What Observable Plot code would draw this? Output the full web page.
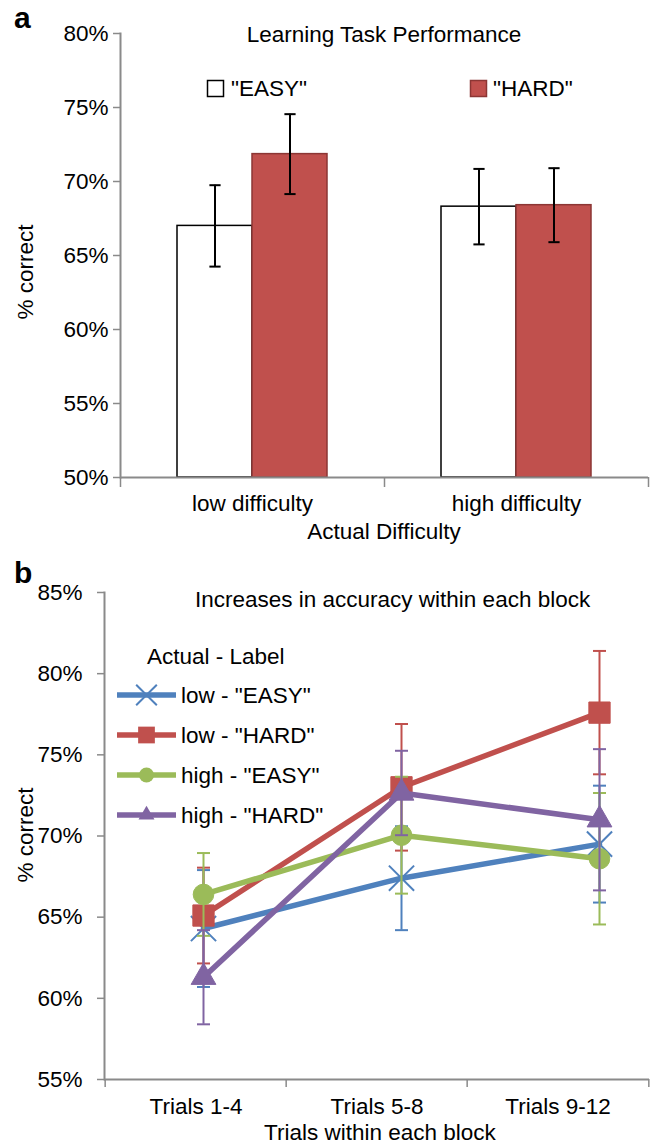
<!DOCTYPE html>
<html>
<head>
<meta charset="utf-8">
<script src="https://cdn.jsdelivr.net/npm/d3@7"></script>
<script src="https://cdn.jsdelivr.net/npm/@observablehq/plot@0.6"></script>
<style>
  body { margin: 0; background: #fff; }
  #root { position: relative; width: 652px; height: 1144px; overflow: hidden; background: #fff; }
  #root > svg { position: absolute; left: 0; }
</style>
</head>
<body>
<div id="root"></div>
<script>
// ---------------- Panel a data ----------------
const aDifficulty = ["low difficulty", "high difficulty"];
const aLabels = ['"EASY"', '"HARD"'];
const aEasy = [67.0, 68.3];
const aEasyErr = [2.75, 2.55];
const aHard = [71.85, 68.4];
const aHardErr = [2.7, 2.5];
const aTicks = [50, 55, 60, 65, 70, 75, 80];
const aFill = ["#ffffff", "#C0504D"];
const aStroke = ["#000000", "#8C3634"];

// ---------------- Panel b data ----------------
const bTrials = ["Trials 1-4", "Trials 5-8", "Trials 9-12"];
const bTicks = [55, 60, 65, 70, 75, 80, 85];
const bSeries = ['low - "EASY"', 'low - "HARD"', 'high - "EASY"', 'high - "HARD"'];
const lowEasy = [64.3, 67.4, 69.5];
const lowEasyErr = [3.6, 3.2, 3.6];
const lowHard = [65.1, 73.0, 77.6];
const lowHardErr = [2.95, 3.9, 3.8];
const highEasy = [66.4, 70.05, 68.6];
const highEasyErr = [2.55, 3.6, 4.05];
const highHard = [61.3, 72.65, 71.0];
const highHardErr = [2.9, 2.6, 4.35];
const bColors = ["#4F81BD", "#C0504D", "#9BBB59", "#8064A2"];
const bSymbols = ["times", "square", "circle", "triangle"];

// ---------------- styling ----------------
const gray = "#8a8a8a";
const font = "'Liberation Sans', Arial, Helvetica, sans-serif";
const fontSize = "22.5px";
const root = document.getElementById("root");
const capSymbol = {
  draw(ctx, size) { const r = Math.sqrt(size / Math.PI); ctx.moveTo(-r, 0); ctx.lineTo(r, 0); }
};
function place(node, top) { node.style.top = top + "px"; root.appendChild(node); return node; }

// ---------------- Panel a ----------------
const aRows = aDifficulty.flatMap((difficulty, i) => [
  {difficulty, label: aLabels[0], value: aEasy[i], err: aEasyErr[i]},
  {difficulty, label: aLabels[1], value: aHard[i], err: aHardErr[i]}
]);
const aW = 652, aH = 550, aML = 120, aMR = 4, aMT = 33, aMB = 73;
const aHalf = (aW - aML - aMR) / aDifficulty.length / 2;

const chartA = Plot.plot({
  width: aW, height: aH, marginLeft: aML, marginRight: aMR, marginTop: aMT, marginBottom: aMB,
  style: {fontFamily: font, fontSize, color: "#000", background: "transparent", overflow: "visible"},
  fx: {domain: aDifficulty, padding: 0, axis: null},
  x: {domain: aLabels, paddingInner: 0, paddingOuter: 0.737, axis: null},
  y: {domain: [50, 80], axis: null},
  marks: [
    ...aLabels.map((lab, j) => Plot.barY(aRows.filter(d => d.label === lab), {
      fx: "difficulty", x: "label", y1: 50, y2: "value",
      fill: aFill[j], stroke: aStroke[j], strokeWidth: 1.5
    })),
    Plot.ruleX(aRows, {fx: "difficulty", x: "label", y1: d => d.value - d.err, y2: d => d.value + d.err, stroke: "#000", strokeWidth: 2}),
    Plot.dot(aRows, {fx: "difficulty", x: "label", y: d => d.value - d.err, symbol: capSymbol, r: 5.6, stroke: "#000", strokeWidth: 2, fill: "none"}),
    Plot.dot(aRows, {fx: "difficulty", x: "label", y: d => d.value + d.err, symbol: capSymbol, r: 5.6, stroke: "#000", strokeWidth: 2, fill: "none"}),
    Plot.ruleY([50], {stroke: gray, strokeWidth: 2}),
    Plot.frame({anchor: "left", facet: "super", stroke: gray, strokeWidth: 2}),
    Plot.axisY({ticks: aTicks, tickFormat: d => d + "%", tickSize: 7, tickPadding: 5, stroke: gray, strokeWidth: 1.5, fill: "#000", label: null}),
    Plot.axisFx({anchor: "bottom", tickSize: 0, tickPadding: 18, fill: "#000", label: null}),
    Plot.axisFx({anchor: "bottom", tickSize: 10, stroke: gray, strokeWidth: 1.5, fill: "none", dx: -aHalf, label: null}),
    Plot.axisFx({anchor: "bottom", ticks: [aDifficulty[aDifficulty.length - 1]], tickSize: 10, stroke: gray, strokeWidth: 1.5, fill: "none", dx: aHalf, label: null})
  ]
});
place(chartA, 0);

// ---------------- Panel b ----------------
const bW = 652, bH = 594, bML = 104, bMR = 3, bMT = 42, bMB = 65, bTop = 550;
const bHalf = (bW - bML - bMR) / bTrials.length / 2;
const bValues = [lowEasy, lowHard, highEasy, highHard];
const bErrs = [lowEasyErr, lowHardErr, highEasyErr, highHardErr];
const bRows = bSeries.map((series, i) => bTrials.map((trial, k) => ({series, trial, value: bValues[i][k], err: bErrs[i][k]})));

// axes layer (Excel category axis: ticks between categories)
const chartBAxes = Plot.plot({
  width: bW, height: bH, marginLeft: bML, marginRight: bMR, marginTop: bMT, marginBottom: bMB,
  style: {fontFamily: font, fontSize, color: "#000", background: "transparent", overflow: "visible"},
  x: {type: "band", domain: bTrials, padding: 0, axis: null},
  y: {domain: [55, 85], axis: null},
  marks: [
    Plot.ruleY([55], {stroke: gray, strokeWidth: 2}),
    Plot.frame({anchor: "left", stroke: gray, strokeWidth: 2}),
    Plot.axisY({ticks: bTicks, tickFormat: d => d + "%", tickSize: 7, tickPadding: 15, stroke: gray, strokeWidth: 1.5, fill: "#000", label: null}),
    Plot.axisX({tickSize: 0, tickPadding: 19, fill: "#000", label: null}),
    Plot.axisX({tickSize: 8, stroke: gray, strokeWidth: 1.5, fill: "none", dx: -bHalf, label: null}),
    Plot.axisX({ticks: [bTrials[bTrials.length - 1]], tickSize: 8, stroke: gray, strokeWidth: 1.5, fill: "none", dx: bHalf, label: null})
  ]
});
place(chartBAxes, bTop);

// data layer
const chartBData = Plot.plot({
  width: bW, height: bH, marginLeft: bML, marginRight: bMR, marginTop: bMT, marginBottom: bMB,
  style: {fontFamily: font, fontSize, background: "transparent", overflow: "visible"},
  x: {type: "point", domain: bTrials, range: [203, 599], padding: 0, axis: null},
  y: {domain: [55, 85], axis: null},
  marks: bRows.flatMap((rows, i) => {
    const c = bColors[i];
    const sym = bSymbols[i];
    const r = sym === "times" ? 11.5 : sym === "square" ? 12 : sym === "circle" ? 10.3 : 9.2;
    return [
      Plot.ruleX(rows, {x: "trial", y1: d => d.value - d.err, y2: d => d.value + d.err, stroke: c, strokeWidth: 2}),
      Plot.dot(rows, {x: "trial", y: d => d.value - d.err, symbol: capSymbol, r: 6.5, stroke: c, strokeWidth: 2, fill: "none"}),
      Plot.dot(rows, {x: "trial", y: d => d.value + d.err, symbol: capSymbol, r: 6.5, stroke: c, strokeWidth: 2, fill: "none"}),
      Plot.line(rows, {x: "trial", y: "value", stroke: c, strokeWidth: 5.5, strokeLinejoin: "round"}),
      sym === "times"
        ? Plot.dot(rows, {x: "trial", y: "value", symbol: sym, r, stroke: c, strokeWidth: 2, fill: "none"})
        : Plot.dot(rows, {x: "trial", y: "value", symbol: sym, r, fill: c, stroke: c, strokeWidth: 1})
    ];
  })
});
place(chartBData, bTop);

// ---------------- annotations (titles, labels, legends) ----------------
const ann = d3.create("svg")
  .attr("width", 652).attr("height", 1144)
  .style("top", "0px").style("pointer-events", "none")
  .style("font-family", font).style("font-size", fontSize);
function txt(s, x, y, anchor = "start") {
  return ann.append("text").attr("x", x).attr("y", y).attr("text-anchor", anchor).attr("fill", "#000").text(s);
}
// panel a
txt("a", 14, 28).style("font-weight", "bold").style("font-size", "30px");
txt("Learning Task Performance", 384, 42, "middle");
ann.append("rect").attr("x", 207.5).attr("y", 80.5).attr("width", 16).attr("height", 16).attr("fill", aFill[0]).attr("stroke", aStroke[0]).attr("stroke-width", 1.5);
txt(aLabels[0], 231, 96);
ann.append("rect").attr("x", 470.5).attr("y", 80.5).attr("width", 16).attr("height", 16).attr("fill", aFill[1]).attr("stroke", aStroke[1]).attr("stroke-width", 1.5);
txt(aLabels[1], 493, 96);
txt("% correct", 0, 0, "middle").attr("transform", "translate(33,272) rotate(-90)");
txt("Actual Difficulty", 384, 539, "middle");
// panel b
txt("b", 14, 583).style("font-weight", "bold").style("font-size", "30px");
txt("Increases in accuracy within each block", 195, 607);
txt("Actual - Label", 147, 664);
const legendSym = [d3.symbolTimes, d3.symbolSquare, d3.symbolCircle, d3.symbolTriangle];
const legendSize = [280, 280, 177, 110];
bSeries.forEach((s, i) => {
  const y = 695 + i * 40;
  ann.append("line").attr("x1", 117).attr("x2", 176).attr("y1", y).attr("y2", y)
    .attr("stroke", bColors[i]).attr("stroke-width", 5.5);
  const p = ann.append("path").attr("transform", `translate(146.5,${y})`)
    .attr("d", d3.symbol(legendSym[i], legendSize[i])());
  if (i === 0) p.attr("fill", "none").attr("stroke", bColors[i]).attr("stroke-width", 2);
  else p.attr("fill", bColors[i]);
  txt(s, 181, y + 8);
});
txt("% correct", 0, 0, "middle").attr("transform", "translate(33,835) rotate(-90)");
txt("Trials within each block", 380, 1140, "middle");
root.appendChild(ann.node());
</script>
</body>
</html>
